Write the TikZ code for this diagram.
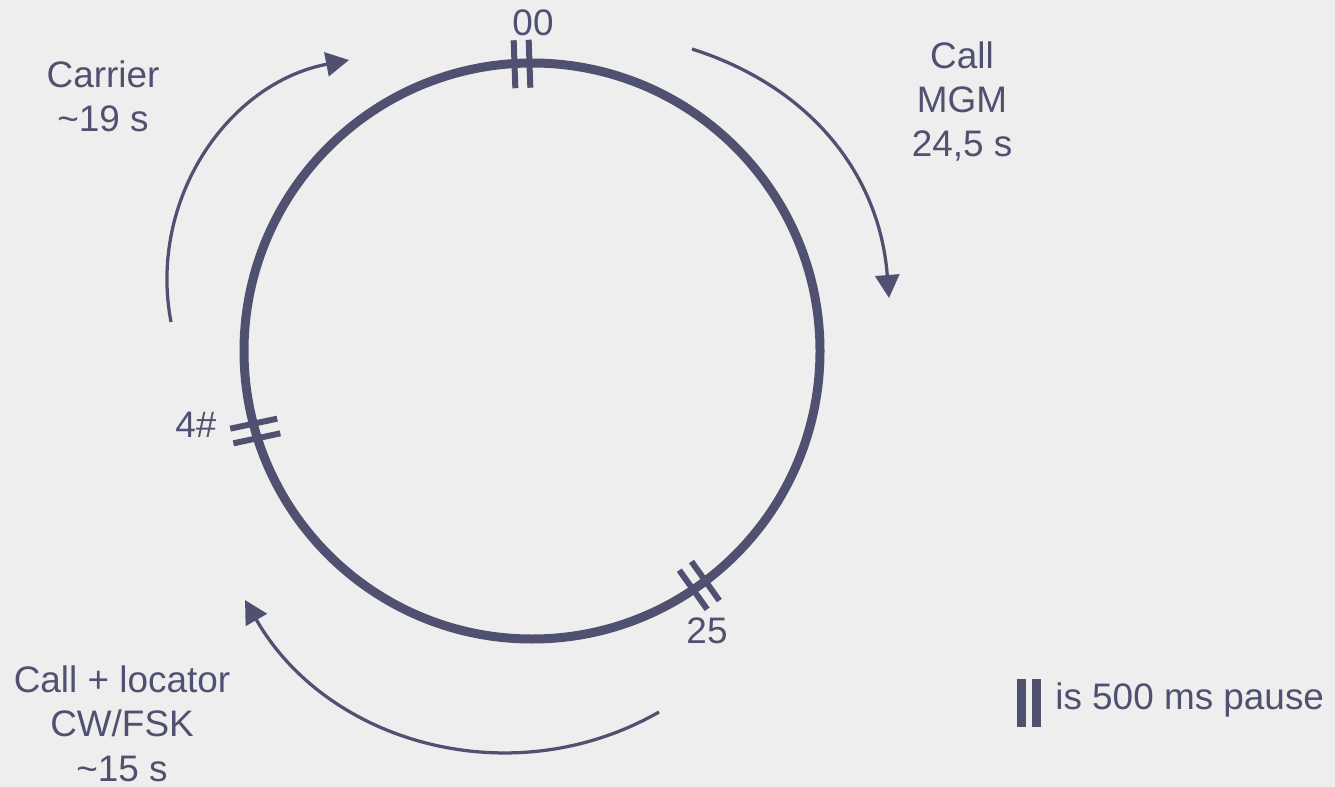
\documentclass[tikz,border=0pt]{standalone}
\usepackage{fontspec}
\setmainfont{Liberation Sans}
\usetikzlibrary{arrows.meta}
\definecolor{ink}{RGB}{80,81,112}
\definecolor{paper}{RGB}{238,238,238}
\begin{document}
\begin{tikzpicture}[x=0.02cm,y=-0.02cm,
  lbl/.style={text=ink, font=\fontsize{21}{25.3}\selectfont, inner sep=0pt, align=center},
  ring/.style={draw=ink, line width=0.18cm},
  flow/.style={draw=ink, line width=0.065cm, -{Triangle[length=0.46cm,width=0.48cm]}},
  markbar/.style={draw=ink, line width=0.12cm},
  legendbar/.style={draw=ink, line width=0.18cm},
  pausemark/.pic={\draw[markbar] (-7.5,-24) -- (-7.5,24); \draw[markbar] (7.5,-24) -- (7.5,24);}
]
\fill[paper] (0,0) rectangle (1335,787);
\useasboundingbox (0,0) rectangle (1335,787);
\coordinate (ctr) at (532,351);
\draw[ring] (ctr) circle[radius=288];
% pause markers
\pic[rotate=2] at (522,64) {pausemark};
\pic[rotate=102] at (255.3,431) {pausemark};
\pic[rotate=35.5] at (699.3,585.4) {pausemark};
% marker labels
\node[lbl, anchor=base] (lab00) at (533,36) {00};
\node[lbl, anchor=base] (lab4) at (196,437) {4\#};
\node[lbl, anchor=base] (lab25) at (707,643) {25};
% phase labels (base anchor = baseline of the last line)
\node[lbl, anchor=base] (carrier) at (103,132) {Carrier\\\textasciitilde19 s};
\node[lbl, anchor=base] (mgm) at (962,157) {Call\\MGM\\24,5 s};
\node[lbl, anchor=base] (locator) at (122,781) {Call + locator\\CW/FSK\\\textasciitilde15 s};
% flow arrows
\coordinate (carS) at (171,322); \coordinate (carE) at (349,60);
\coordinate (mgmS) at (692,49); \coordinate (mgmE) at (889,298);
\coordinate (locS) at (659,712); \coordinate (locE) at (245,600);
\draw[flow] (carS) to[bend left=45] (carE);
\draw[flow] (mgmS) to[bend left=34] (mgmE);
\draw[flow] (locS) to[bend left=45] (locE);
% legend
\coordinate (lgA) at (1021.5,679); \coordinate (lgB) at (1021.5,727);
\coordinate (lgC) at (1036.5,679); \coordinate (lgD) at (1036.5,727);
\draw[legendbar] (lgA) -- (lgB);
\draw[legendbar] (lgC) -- (lgD);
\node[lbl, anchor=base west] (legend) at (1055,709) {is 500 ms pause};
\end{tikzpicture}
\end{document}
